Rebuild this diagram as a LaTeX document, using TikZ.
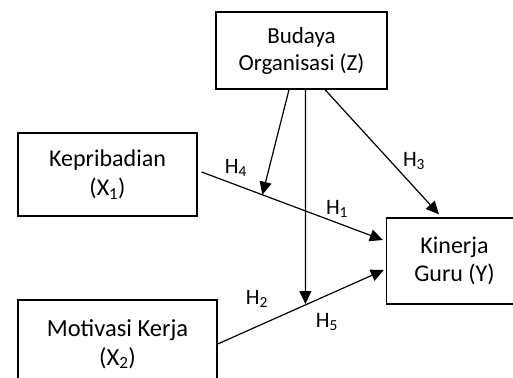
\documentclass[tikz,border=0pt]{standalone}
\usepackage{fontspec}
\setmainfont{Carlito}
\usetikzlibrary{arrows.meta,calc}
\begin{document}
\begin{tikzpicture}[x=1pt,y=-1pt,
  box/.style={draw,line width=1.3pt,inner sep=0pt,align=center},
  arr/.style={line width=1.2pt,-{Triangle[length=13pt,width=12pt]}},
  lbl/.style={font=\fontsize{22}{26}\selectfont,inner sep=0pt}]
\clip (0,0) rectangle (513,377);
\node[box,minimum width=171pt,minimum height=77pt,font=\fontsize{23}{27}\selectfont] (z) at (301.5,50.5) {Budaya\\Organisasi (Z)};
\node[box,minimum width=179pt,minimum height=83pt,font=\fontsize{24}{29}\selectfont] (x1) at (107.5,174.5) {Kepribadian\\(X\textsubscript{1})};
\node[box,minimum width=199pt,minimum height=88pt,font=\fontsize{24.5}{29}\selectfont] (x2) at (117.5,344) {Motivasi Kerja\\(X\textsubscript{2})};
\node[box,minimum width=136pt,minimum height=86pt,font=\fontsize{24}{28}\selectfont] (y) at (454.5,261) {Kinerja\\Guru (Y)};
% X1 -> Y
\draw[arr] ($(x1.east)+(4,-2.5)$) coordinate (a1) -- ($(y.west)+(-3,-21)$) coordinate (b1);
% X2 -> Y
\draw[arr] (x2.east) coordinate (a2) -- ($(y.west)+(-2,9)$) coordinate (b2);
% Z moderation arrows
\coordinate (m1) at ($(a1)!0.335!(b1)$);
\coordinate (m2) at ($(a2)!0.528!(b2)$);
\draw[arr] ($(z.south)+(-12.5,0)$) -- (m1);
\draw[arr] ($(z.south)+(4,0)$) -- (m2 |- 0,304);
% Z -> Y
\draw[arr] ($(z.south)+(23.5,0)$) -- ($(y.north)+(-15.5,-3)$);
% labels
\node[lbl] (h4) at (236,168) {H\textsubscript{4}};
\node[lbl] (h3) at (414,161) {H\textsubscript{3}};
\node[lbl] (h1) at (337,209) {H\textsubscript{1}};
\node[lbl] (h2) at (257,299) {H\textsubscript{2}};
\node[lbl] (h5) at (327,322) {H\textsubscript{5}};
\end{tikzpicture}
\end{document}
